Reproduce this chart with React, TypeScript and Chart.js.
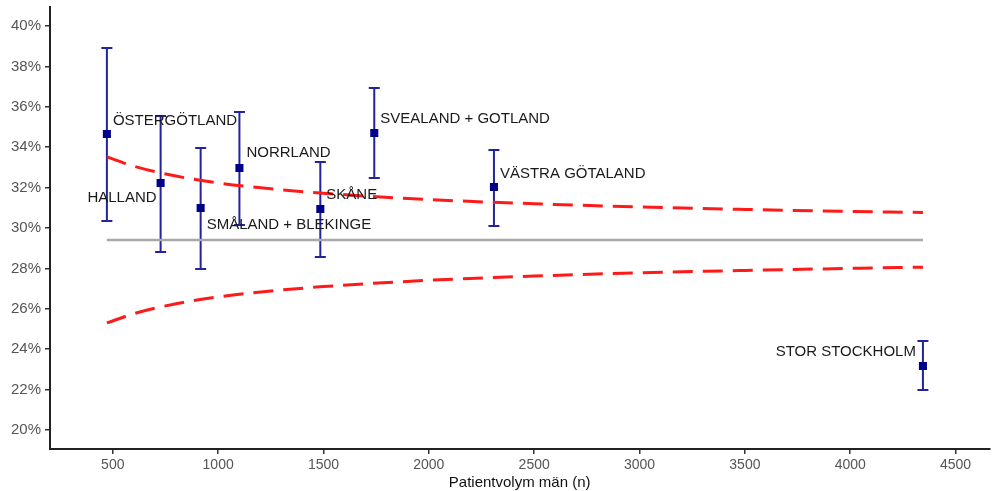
import React, { useEffect, useRef } from "react";
import { Chart, registerables } from "chart.js";

Chart.register(...registerables);

// Regions (order along x)
const regionNames = [
  "ÖSTERGÖTLAND",
  "HALLAND",
  "SMÅLAND + BLEKINGE",
  "NORRLAND",
  "SKÅNE",
  "SVEALAND + GOTLAND",
  "VÄSTRA GÖTALAND",
  "STOR STOCKHOLM",
];
// Patient volume (n)
const patientVolume = [472, 727, 917, 1101, 1485, 1741, 2309, 4345];
// Proportion (%)
const proportion = [34.65, 32.23, 30.99, 32.97, 30.94, 34.7, 32.03, 23.17];
const ciLower = [30.35, 28.81, 27.97, 30.15, 28.56, 32.48, 30.1, 21.98];
const ciUpper = [38.91, 35.54, 33.96, 35.74, 33.27, 36.93, 33.86, 24.41];

// National mean
const nationalMean = 29.41;

// Funnel limits
const funnelN = [472, 600, 800, 1000, 1250, 1500, 2000, 2500, 3000, 3500, 4000, 4345];
const funnelUpper = [33.52, 33.06, 32.57, 32.23, 31.94, 31.72, 31.41, 31.2, 31.04, 30.92, 30.82, 30.77];
const funnelLower = [25.3, 25.76, 26.25, 26.59, 26.88, 27.1, 27.41, 27.62, 27.78, 27.9, 28.0, 28.06];

// Tick labels
const xTicks = [500, 1000, 1500, 2000, 2500, 3000, 3500, 4000, 4500];
const yTicks = [20, 22, 24, 26, 28, 30, 32, 34, 36, 38, 40];

// Label placement (pixel offset from point, text alignment)
const labelDx = [6, -4, 6, 7, 6, 6, 6, -7];
const labelDy = [-13, 15, 17, -15, -14, -14, -13, -14];
const labelAlign: CanvasTextAlign[] = ["left", "right", "left", "left", "left", "left", "left", "right"];

const FONT = "'Liberation Sans', Arial, Helvetica, sans-serif";

export default function App() {
  const ref = useRef<HTMLCanvasElement | null>(null);

  useEffect(() => {
    if (!ref.current) return;
    const POINTS = 3;

    const errorBarPlugin = {
      id: "errorBars",
      beforeDatasetDraw(chart: any, args: any) {
        if (args.index !== POINTS) return;
        const { ctx, scales } = chart;
        const xs = scales.x;
        const ys = scales.y;
        ctx.save();
        ctx.strokeStyle = "#23239c";
        ctx.lineWidth = 2;
        patientVolume.forEach((n, i) => {
          const x = xs.getPixelForValue(n);
          const y1 = ys.getPixelForValue(ciLower[i]);
          const y2 = ys.getPixelForValue(ciUpper[i]);
          ctx.beginPath();
          ctx.moveTo(x, y1);
          ctx.lineTo(x, y2);
          ctx.moveTo(x - 5.5, y1);
          ctx.lineTo(x + 5.5, y1);
          ctx.moveTo(x - 5.5, y2);
          ctx.lineTo(x + 5.5, y2);
          ctx.stroke();
        });
        ctx.restore();
      },
      afterDatasetsDraw(chart: any) {
        const { ctx, scales } = chart;
        ctx.save();
        ctx.fillStyle = "#1a1a1a";
        ctx.font = `15px ${FONT}`;
        ctx.textBaseline = "middle";
        regionNames.forEach((name, i) => {
          const x = scales.x.getPixelForValue(patientVolume[i]);
          const y = scales.y.getPixelForValue(proportion[i]);
          ctx.textAlign = labelAlign[i];
          ctx.fillText(name, x + labelDx[i], y + labelDy[i]);
        });
        ctx.restore();
      },
    };

    const chart = new Chart(ref.current, {
      type: "scatter",
      data: {
        datasets: [
          {
            data: [
              { x: patientVolume[0], y: nationalMean },
              { x: patientVolume[patientVolume.length - 1], y: nationalMean },
            ],
            showLine: true,
            borderColor: "#a9a9a9",
            borderWidth: 2.5,
            pointRadius: 0,
          },
          {
            data: funnelN.map((n, i) => ({ x: n, y: funnelUpper[i] })),
            showLine: true,
            borderColor: "#ff1a1a",
            borderWidth: 3,
            borderDash: [20, 10],
            cubicInterpolationMode: "monotone",
            pointRadius: 0,
          },
          {
            data: funnelN.map((n, i) => ({ x: n, y: funnelLower[i] })),
            showLine: true,
            borderColor: "#ff1a1a",
            borderWidth: 3,
            borderDash: [20, 10],
            cubicInterpolationMode: "monotone",
            pointRadius: 0,
          },
          {
            data: patientVolume.map((n, i) => ({ x: n, y: proportion[i] })),
            pointStyle: "rect",
            pointRadius: 5.7,
            pointBackgroundColor: "#00008b",
            pointBorderColor: "#00008b",
            pointBorderWidth: 0,
          },
        ],
      },
      options: {
        animation: false,
        responsive: false,
        devicePixelRatio: 1,
        layout: { padding: { top: 7, right: 0, left: 0, bottom: 0 } },
        plugins: {
          legend: { display: false },
          tooltip: { enabled: false },
        },
        scales: {
          x: {
            type: "linear",
            min: 202,
            max: 4660,
            afterBuildTicks: (scale: any) => {
              scale.ticks = xTicks.map((v) => ({ value: v }));
            },
            afterFit: (scale: any) => {
              scale.height = 42;
              scale.paddingLeft = 0;
              scale.paddingRight = 0;
            },
            grid: {
              drawOnChartArea: false,
              drawTicks: true,
              tickLength: 5,
              color: "#333333",
              lineWidth: 1.5,
            },
            border: { display: true, color: "#222222", width: 2 },
            ticks: {
              color: "#555555",
              font: { family: FONT, size: 14 },
              padding: 3,
              maxRotation: 0,
              autoSkip: false,
              callback: (v: any) => String(v),
            },
            title: {
              display: true,
              text: "Patientvolym män (n)",
              color: "#111111",
              font: { family: FONT, size: 15, lineHeight: 1 },
              padding: { top: 0, bottom: 0.5 },
            },
          },
          y: {
            type: "linear",
            min: 19.06,
            max: 40.94,
            afterBuildTicks: (scale: any) => {
              scale.ticks = yTicks.map((v) => ({ value: v }));
            },
            afterFit: (scale: any) => {
              scale.width = 50;
              scale.paddingTop = 0;
              scale.paddingBottom = 0;
            },
            grid: {
              drawOnChartArea: false,
              drawTicks: true,
              tickLength: 5,
              color: "#333333",
              lineWidth: 1.5,
            },
            border: { display: true, color: "#222222", width: 2 },
            ticks: {
              color: "#555555",
              font: { family: FONT, size: 15 },
              padding: 4,
              autoSkip: false,
              callback: (v: any) => `${v}%`,
            },
          },
        },
      },
      plugins: [errorBarPlugin],
    } as any);

    return () => chart.destroy();
  }, []);

  return (
    <div style={{ position: "fixed", left: 0, top: 0, width: 995, height: 491, background: "#fff" }}>
      <canvas ref={ref} width={995} height={491} style={{ width: 995, height: 491, display: "block" }} />
    </div>
  );
}
